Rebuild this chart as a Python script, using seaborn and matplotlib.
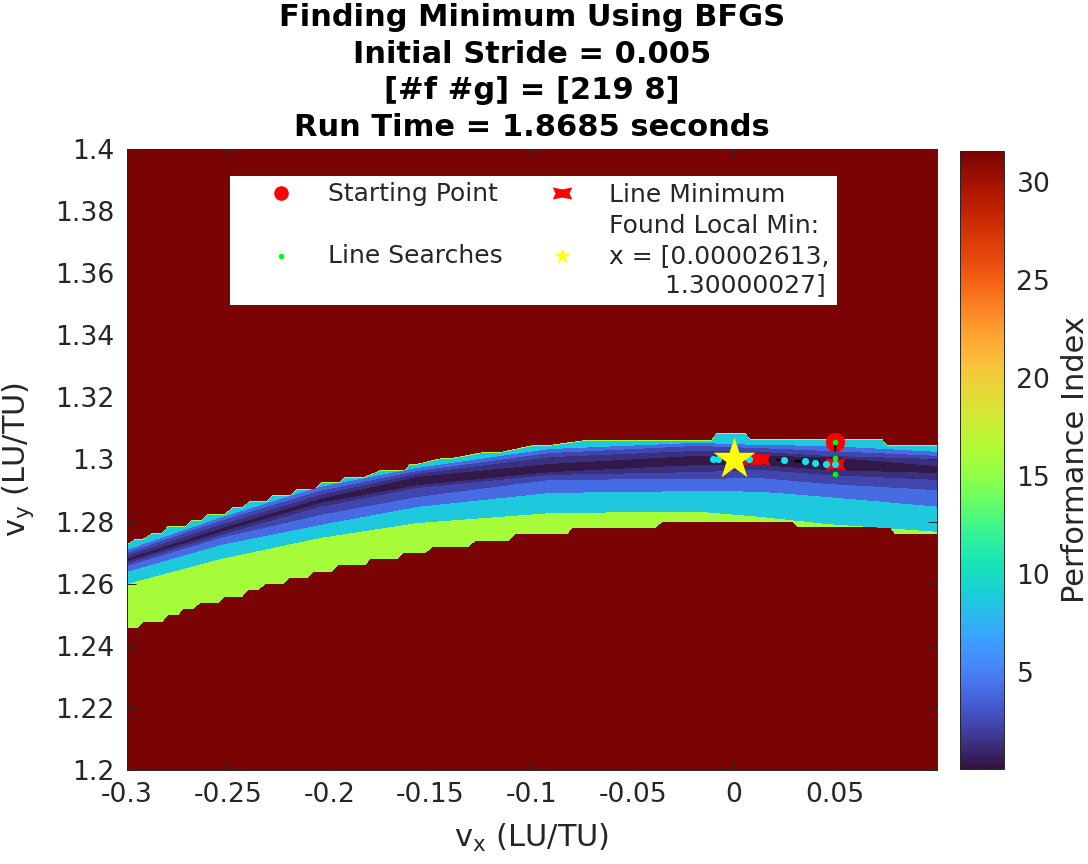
import numpy as np
import seaborn as sns
import matplotlib
matplotlib.use("Agg")
import matplotlib.pyplot as plt
from matplotlib.lines import Line2D
from matplotlib.path import Path
from matplotlib.cm import ScalarMappable
from matplotlib.colors import Normalize

# Contour band edges
knot_vx = [-0.3000, -0.2540, -0.2046, -0.1567, -0.0909, -0.0183, 0.0129, 0.0460, 0.1003]
edge_a = [1.2707, 1.2810, 1.2910, 1.2971, 1.3032, 1.3052, 1.3045, 1.3042, 1.3023]
edge_b = [1.2697, 1.2800, 1.2897, 1.2961, 1.3019, 1.3042, 1.3035, 1.3026, 1.3010]
edge_c = [1.2688, 1.2787, 1.2884, 1.2952, 1.3006, 1.3026, 1.3023, 1.3010, 1.3000]
edge_d = [1.2678, 1.2775, 1.2871, 1.2942, 1.2984, 1.3010, 1.3010, 1.3006, 1.2977]
edge_e = [1.2675, 1.2768, 1.2862, 1.2919, 1.2961, 1.2984, 1.2984, 1.2968, 1.2958]
edge_f = [1.2668, 1.2758, 1.2849, 1.2910, 1.2952, 1.2961, 1.2968, 1.2952, 1.2936]
edge_g = [1.2659, 1.2749, 1.2823, 1.2881, 1.2936, 1.2939, 1.2942, 1.2923, 1.2903]
edge_h = [1.2640, 1.2726, 1.2791, 1.2849, 1.2894, 1.2900, 1.2898, 1.2881, 1.2850]
edge_i = [1.2601, 1.2681, 1.2749, 1.2797, 1.2829, 1.2834, 1.2817, 1.2794, 1.2769]

top_vx = [-0.3000, -0.2960, -0.2921, -0.2876, -0.2827, -0.2798, -0.2713, -0.2679, -0.2629, -0.2600,
          -0.2516, -0.2476, -0.2432, -0.2392, -0.2308, -0.2278, -0.2194, -0.2160, -0.2071, -0.2036,
          -0.1947, -0.1923, -0.1824, -0.1750, -0.1626, -0.1601, -0.1567, -0.1443, -0.1394, -0.1241,
          -0.1157, -0.0998, -0.0924, -0.0722, -0.0109, -0.0084, 0.0054, 0.0079, 0.0731, 0.0756, 0.1003]
top_vy = [1.2721, 1.2739, 1.2739, 1.2758, 1.2758, 1.2780, 1.2780, 1.2799, 1.2799, 1.2820,
          1.2820, 1.2841, 1.2841, 1.2861, 1.2861, 1.2880, 1.2880, 1.2899, 1.2899, 1.2922,
          1.2922, 1.2940, 1.2940, 1.2960, 1.2960, 1.2981, 1.2981, 1.3000, 1.3000, 1.3019,
          1.3019, 1.3041, 1.3041, 1.3059, 1.3059, 1.3081, 1.3081, 1.3060, 1.3060, 1.3043, 1.3043]

low_vx = [-0.3000, -0.2951, -0.2921, -0.2827, -0.2798, -0.2749, -0.2723, -0.2674, -0.2639, -0.2550,
          -0.2521, -0.2432, -0.2402, -0.2353, -0.2318, -0.2229, -0.2199, -0.2110, -0.2081, -0.1992,
          -0.1957, -0.1824, -0.1799, -0.1666, -0.1636, -0.1527, -0.1488, -0.1315, -0.1280, -0.1117,
          -0.1082, -0.0825, -0.0801, -0.0390, -0.0356, 0.0292, 0.0316, 0.0771, 0.0796, 0.1003]
low_vy = [1.2460, 1.2460, 1.2479, 1.2479, 1.2501, 1.2501, 1.2520, 1.2520, 1.2540, 1.2540,
          1.2560, 1.2560, 1.2581, 1.2581, 1.2601, 1.2601, 1.2621, 1.2621, 1.2640, 1.2640,
          1.2662, 1.2662, 1.2681, 1.2681, 1.2701, 1.2701, 1.2721, 1.2721, 1.2739, 1.2739,
          1.2762, 1.2762, 1.2782, 1.2782, 1.2801, 1.2801, 1.2784, 1.2784, 1.2762, 1.2762]

# Performance index of each band
band_green = 16.0
band_cyan = 8.7
band_blue = 4.0
band_indigo = 2.3
band_dark = 1.3
band_darkest = 0.3
index_min, index_max = 0.02, 31.6

# Optimiser path
start_vx, start_vy = [0.05], [1.3055]
path_vx = [0.05, 0.05, 0.0115, 0.00002613]
path_vy = [1.3055, 1.2987, 1.3003, 1.30000027]
linemin_vx = [0.05, 0.0089, 0.0129]
linemin_vy = [1.2987, 1.3003, 1.3003]
search_vx = [-0.0104, -0.0079, 0.0074, 0.0247, 0.0351, 0.0400, 0.0455, 0.05]
search_vy = [1.3003, 1.3003, 1.3000, 1.2997, 1.2994, 1.2990, 1.2987, 1.2987]
probe_vx = [0.05, 0.05, 0.05]
probe_vy = [1.3055, 1.3005, 1.2952]
found_vx, found_vy = [0.00002613], [1.30000027]

xtick_vals = [-0.3, -0.25, -0.2, -0.15, -0.1, -0.05, 0, 0.05]
xtick_text = ["-0.3", "-0.25", "-0.2", "-0.15", "-0.1", "-0.05", "0", "0.05"]
ytick_vals = [1.2, 1.22, 1.24, 1.26, 1.28, 1.3, 1.32, 1.34, 1.36, 1.38, 1.4]
ytick_text = ["1.2", "1.22", "1.24", "1.26", "1.28", "1.3", "1.32", "1.34", "1.36", "1.38", "1.4"]
cbar_ticks = [5, 10, 15, 20, 25, 30]
title_lines = ["Finding Minimum Using BFGS", "Initial Stride = 0.005", "[#f #g] = [219 8]",
               "Run Time = 1.8685 seconds"]
legend_labels = ["Starting Point", "\nLine Searches\n", "Line Minimum",
                 "Found Local Min:\nx = [0.00002613,\n       1.30000027]"]

sns.set_theme(style="ticks", font="DejaVu Sans")
plt.rcParams.update({"axes.edgecolor": "#262626", "axes.linewidth": 0.7, "text.color": "#262626",
                     "xtick.color": "#262626", "ytick.color": "#262626", "axes.labelcolor": "#262626"})

cmap = plt.get_cmap("turbo")
norm = Normalize(index_min, index_max)
fig = plt.figure(figsize=(10.88, 8.64), dpi=100)
ax = fig.add_axes([127 / 1088, 94 / 864, 810 / 1088, 621 / 864])
ax.set_facecolor(cmap(1.0))


def band(x1, y1, x2, y2, val, z):
    ax.fill(np.r_[x1, x2[::-1]], np.r_[y1, y2[::-1]], color=cmap(norm(val)), lw=0, antialiased=False, zorder=z)


top_x, top_y, low_x, low_y, kx = map(np.array, (top_vx, top_vy, low_vx, low_vy, knot_vx))
band(top_x, top_y + 0.0003, low_x, low_y, band_green, 1.0)
band(top_x, top_y, kx, np.array(edge_i), band_cyan, 1.1)
band(kx, np.array(edge_a), kx, np.array(edge_h), band_blue, 1.2)
band(kx, np.array(edge_b), kx, np.array(edge_g), band_indigo, 1.3)
band(kx, np.array(edge_c), kx, np.array(edge_f), band_dark, 1.4)
band(kx, np.array(edge_d), kx, np.array(edge_e), band_darkest, 1.5)

bowtie = Path([(-1, 0.62), (0, 0.42), (1, 0.62), (0.72, 0), (1, -0.62), (0, -0.42), (-1, -0.62), (-0.72, 0), (-1, 0.62)],
              closed=True)

sns.scatterplot(x=start_vx, y=start_vy, ax=ax, s=190, color="#ff0000", linewidth=0, zorder=3, legend=False)
sns.lineplot(x=path_vx, y=path_vy, ax=ax, color="black", lw=1.6, ls=(0, (4, 4)), sort=False, estimator=None,
             zorder=3.5, legend=False)
sns.scatterplot(x=linemin_vx, y=linemin_vy, ax=ax, s=210, marker=bowtie, color="#ff0000", linewidth=0, zorder=4,
                legend=False)
sns.scatterplot(x=search_vx, y=search_vy, ax=ax, s=26, color="#10e4ee", linewidth=0, zorder=5, legend=False)
sns.scatterplot(x=probe_vx, y=probe_vy, ax=ax, s=16, color="#00ff00", linewidth=0, zorder=5.5, legend=False)
sns.scatterplot(x=found_vx, y=found_vy, ax=ax, s=1000, marker="*", color="#ffff00", linewidth=0, zorder=6, legend=False)

ax.set_xlim(-0.3, 0.1003)
ax.set_ylim(1.2, 1.4)
ax.set_xticks(xtick_vals, xtick_text, fontsize=19.2)
ax.set_yticks(ytick_vals, ytick_text, fontsize=19.2)
ax.tick_params(axis="x", pad=9)
ax.tick_params(axis="y", pad=9)
ax.tick_params(direction="in", length=6.5, width=0.7, top=True, right=True)
ax.set_axisbelow(False)
ax.set_xlabel(r"v$_{\mathrm{x}}$ (LU/TU)", fontsize=22)
ax.set_ylabel(r"v$_{\mathrm{y}}$ (LU/TU)", fontsize=22)
ax.xaxis.set_label_coords(405 / 810, -52 / 621)
ax.yaxis.set_label_coords(-91 / 810, 0.5)
fig.suptitle("\n".join(title_lines), x=532 / 1088, y=1 - 3 / 864, va="top", fontsize=22, fontweight="bold",
             color="black", linespacing=1.33)

handles = [
    Line2D([], [], ls="", marker="o", ms=10.5, mfc="#ff0000", mec="none"),
    Line2D([], [], ls="", marker="o", ms=4, mfc="#00ff00", mec="none"),
    Line2D([], [], ls="", marker=bowtie, ms=14, mfc="#ff0000", mec="none"),
    Line2D([], [], ls="", marker="*", ms=12, mfc="#ffff00", mec="none"),
]
leg = ax.legend(handles, legend_labels, ncol=2, fontsize=18, loc="upper left",
                bbox_to_anchor=(102 / 810, 1 - 26 / 621), borderaxespad=0, borderpad=0.3, handlelength=3.55,
                handletextpad=0.1, columnspacing=0.6, labelspacing=0.3, fancybox=False, framealpha=1,
                facecolor="white", edgecolor="#262626")
leg.get_frame().set_linewidth(0.7)
for t in leg.get_texts():
    t.set_color("#262626")
    t.set_linespacing(1.3)
leg.set_zorder(10)

cax = fig.add_axes([960 / 1088, 95 / 864, 44 / 1088, 618 / 864])
cb = fig.colorbar(ScalarMappable(norm=norm, cmap=cmap), cax=cax)
cb.set_ticks(cbar_ticks)
cb.ax.tick_params(labelsize=19.2, direction="in", length=4.8, width=0.7, pad=9)
cb.outline.set_linewidth(0.7)
cb.set_label("Performance Index", fontsize=22)
cb.ax.yaxis.set_label_coords((1061 - 960) / 44, 0.5)

fig.savefig("out.png", dpi=100)
